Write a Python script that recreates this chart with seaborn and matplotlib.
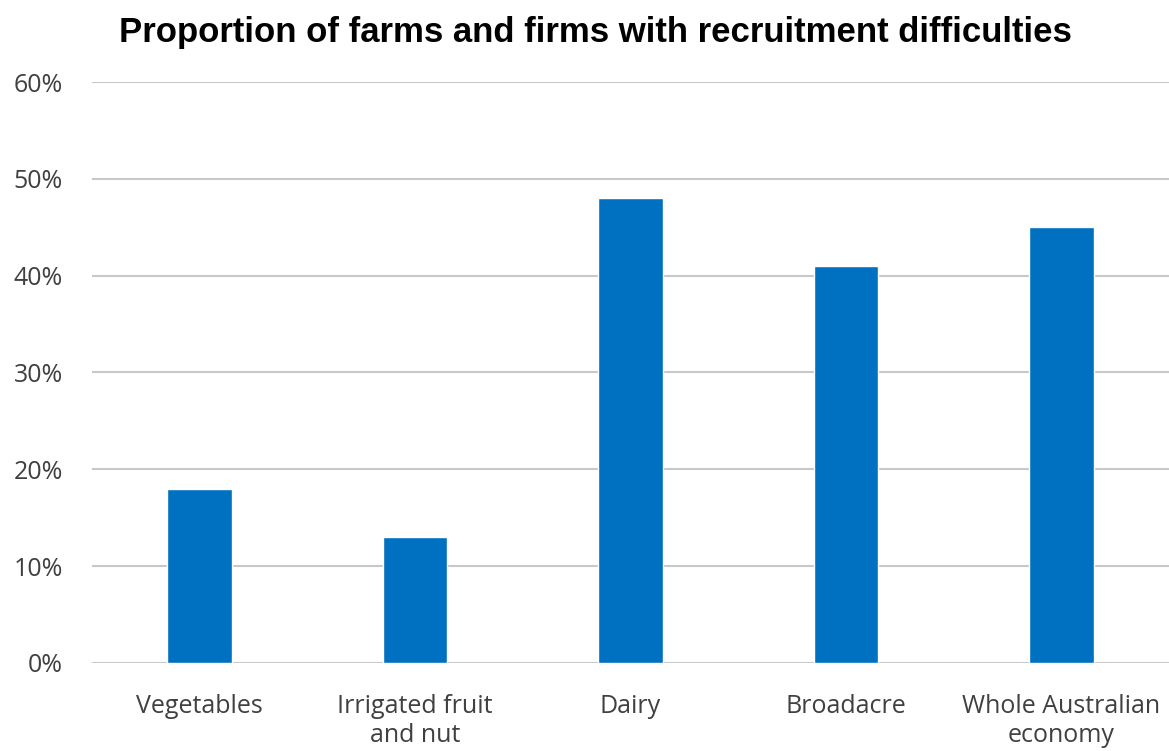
import matplotlib
matplotlib.use("Agg")
import matplotlib.pyplot as plt
import seaborn as sns
import pandas as pd
from matplotlib.ticker import PercentFormatter

categories = ["Vegetables", "Irrigated fruit\nand nut", "Dairy", "Broadacre", "Whole Australian\neconomy"]
values = [18, 13, 48, 41, 45]
yticks = [0, 10, 20, 30, 40, 50, 60]

sns.set_theme(style="white")
plt.rcParams['font.family'] = ['Open Sans', 'DejaVu Sans']

df = pd.DataFrame({"category": categories, "value": values})

fig = plt.figure(figsize=(11.69, 7.51), dpi=100)
ax = fig.add_axes([0.0787, 0.1172, 0.9213, 0.7736])
sns.barplot(data=df, x="category", y="value", color="#0070C0", width=0.3,
            saturation=1, ax=ax, zorder=3)
ax.set_xlim(-0.5, 4.5)
ax.set_ylim(0, 60)
ax.set_yticks(yticks)
ax.yaxis.set_major_formatter(PercentFormatter(decimals=0))
ax.grid(axis="y", color="#c8c8c8", linewidth=1.5, zorder=0)
ax.set_axisbelow(True)
for s in ax.spines.values():
    s.set_visible(False)
ax.set_xlabel("")
ax.set_ylabel("")
ax.tick_params(axis="both", length=0, labelsize=18, colors="#404040")
ax.tick_params(axis="y", pad=21)
ax.tick_params(axis="x", pad=22)
for lbl in ax.get_xticklabels():
    lbl.set_linespacing(1.25)

fig.text(0.509, 0.957, "Proportion of farms and firms with recruitment difficulties",
         ha="center", va="center", fontsize=25, fontweight="bold",
         family=["Liberation Sans", "DejaVu Sans"], color="black")

fig.savefig("out.png", dpi=100)
